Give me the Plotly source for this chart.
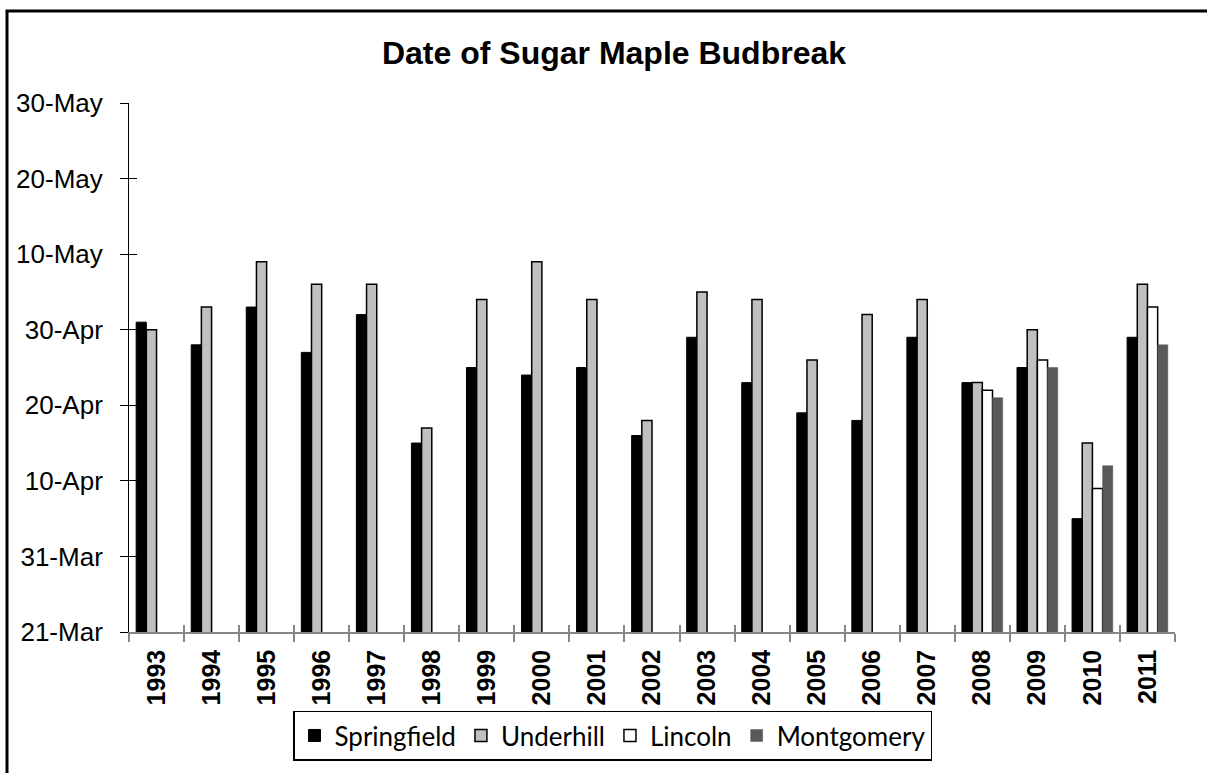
import datetime as dt
import plotly.graph_objects as go

years = [str(y) for y in range(1993, 2012)]

springfield = ["1-May", "28-Apr", "3-May", "27-Apr", "2-May", "15-Apr", "25-Apr", "24-Apr",
               "25-Apr", "16-Apr", "29-Apr", "23-Apr", "19-Apr", "18-Apr", "29-Apr",
               "23-Apr", "25-Apr", "5-Apr", "29-Apr"]
underhill = ["30-Apr", "3-May", "9-May", "6-May", "6-May", "17-Apr", "4-May", "9-May",
             "4-May", "18-Apr", "5-May", "4-May", "26-Apr", "2-May", "4-May",
             "23-Apr", "30-Apr", "15-Apr", "6-May"]
lincoln = [None] * 15 + ["22-Apr", "26-Apr", "9-Apr", "3-May"]
montgomery = [None] * 15 + ["21-Apr", "25-Apr", "12-Apr", "28-Apr"]

tick_labels = ["21-Mar", "31-Mar", "10-Apr", "20-Apr", "30-Apr", "10-May", "20-May", "30-May"]


def doy(s):
    if s is None:
        return None
    return dt.datetime.strptime(s + "-2011", "%d-%b-%Y").timetuple().tm_yday


tick_vals = [doy(t) for t in tick_labels]

series = [
    ("Springfield", springfield, "#000000", "#000000", 1),
    ("Underhill", underhill, "#C0C0C0", "#000000", 1.5),
    ("Lincoln", lincoln, "#FFFFFF", "#000000", 1.5),
    ("Montgomery", montgomery, "#595959", "#595959", 0.5),
]

fig = go.Figure()
for name, vals, fill, line, lw in series:
    fig.add_trace(go.Bar(
        x=years, y=[doy(v) for v in vals], name=name,
        marker=dict(color=fill, line=dict(color=line, width=lw)),
    ))

# dummy trace for overlay axes (crossing tick marks)
fig.add_trace(go.Scatter(x=[], y=[], xaxis="x2", yaxis="y2", showlegend=False, hoverinfo="skip"))

axis_font = dict(family="Liberation Sans, Arial", size=26, color="#000000")

# outer frame: left and top edges (right/bottom fall outside the picture)
fx0 = (7 - 129) / 1046
fx1 = (1230 - 129) / 1046
fy0 = (634 - 800) / 532
fy1 = (634 - 9.5) / 532
frame_path = f"M {fx0},{fy0} L {fx0},{fy1} L {fx1},{fy1}"

fig.update_layout(
    width=1207, height=773,
    margin=dict(l=129, r=32, t=103, b=139),
    paper_bgcolor="white", plot_bgcolor="white",
    barmode="group", bargap=0.26, bargroupgap=0,
    title=dict(text="<b>Date of Sugar Maple Budbreak</b>", x=614 / 1207, xanchor="center",
               y=1 - 53 / 773, yanchor="middle",
               font=dict(family="Liberation Sans, Arial", size=32, color="#000000")),
    xaxis=dict(
        type="category", range=[-0.5, 18.5], showline=True, linecolor="#868686", linewidth=1.5,
        ticks="outside", ticklen=8, tickcolor="#868686", tickwidth=1.5, tickson="boundaries",
        tickangle=-90, showgrid=False, zeroline=False,
        tickfont=dict(family="Liberation Sans, Arial", size=25, color="#000000", weight="bold"),
        ticklabelstandoff=6,
    ),
    yaxis=dict(
        range=[tick_vals[0], tick_vals[-1]], tickvals=tick_vals, ticktext=tick_labels,
        showline=True, linecolor="#000000", linewidth=1,
        ticks="outside", ticklen=8, tickcolor="#000000", tickwidth=1,
        showgrid=False, zeroline=False, tickfont=axis_font, ticklabelstandoff=12,
    ),
    xaxis2=dict(overlaying="x", range=[-0.5, 18.5], tickvals=[i - 0.5 for i in range(20)],
                ticks="inside", ticklen=7, tickcolor="#868686", tickwidth=1.5,
                showticklabels=False, showgrid=False, zeroline=False, showline=False,
                anchor="y2", side="bottom"),
    yaxis2=dict(overlaying="y", range=[tick_vals[0], tick_vals[-1]], tickvals=tick_vals,
                ticks="inside", ticklen=8, tickcolor="#000000", tickwidth=1,
                showticklabels=False, showgrid=False, zeroline=False, showline=False,
                anchor="x2", side="left"),
    legend=dict(
        orientation="h", x=(612.5 - 129) / 1046, xanchor="center",
        y=(634 - 713) / 532, yanchor="top",
        bordercolor="#000000", borderwidth=1.5, bgcolor="white",
        font=dict(family="Lato, Noto Sans", size=26, color="#000000"),
        itemwidth=30, traceorder="normal",
    ),
    showlegend=True,
    shapes=[dict(type="path", xref="paper", yref="paper", path=frame_path,
                 line=dict(color="#000000", width=3), layer="below")],
)

fig.write_html("out.html", config={"displayModeBar": False},
               post_script="document.body.style.margin='0px';")
